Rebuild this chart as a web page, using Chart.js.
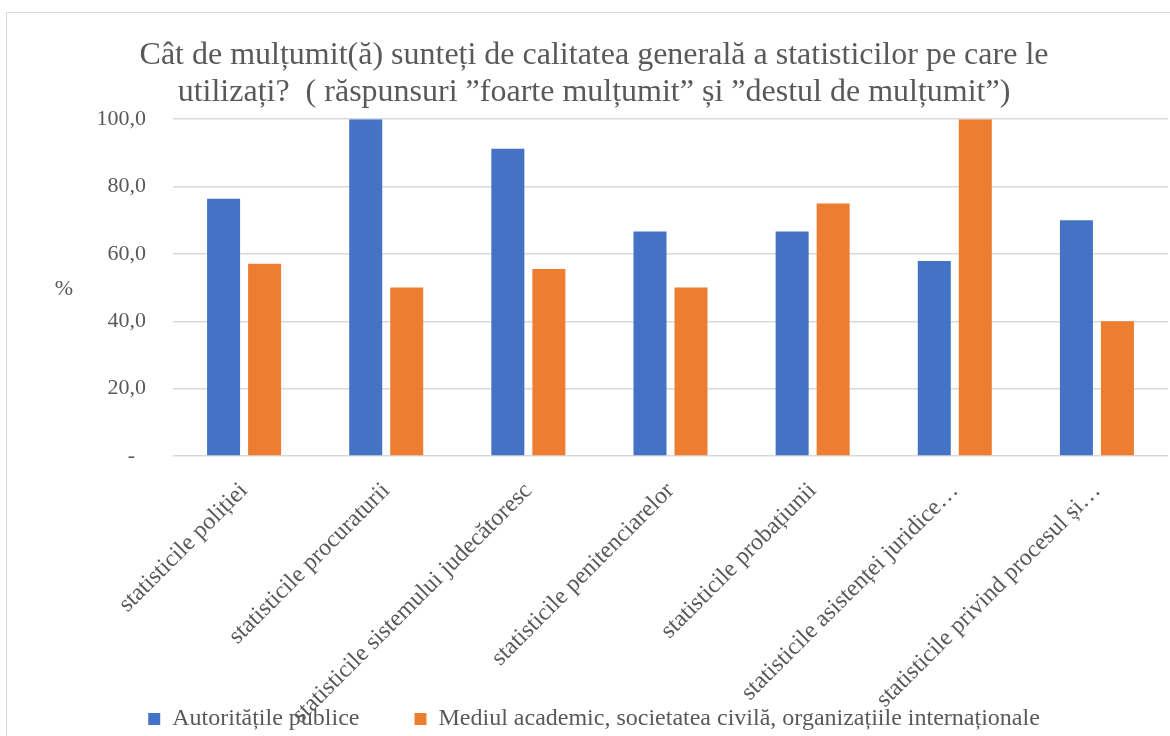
<!DOCTYPE html>
<html>
<head>
<meta charset="utf-8">
<script src="https://cdn.jsdelivr.net/npm/chart.js@4.4.0/dist/chart.umd.min.js"></script>
<style>
  html, body { margin: 0; padding: 0; background: #ffffff; overflow: hidden; width: 1170px; height: 736px; }
  #frame { position: absolute; left: 6px; top: 12px; width: 1200px; height: 800px; border: 1px solid #d9d9d9; box-sizing: border-box; }
  #c { position: absolute; left: 7px; top: 13px; }
</style>
</head>
<body>
<div id="frame"></div>
<canvas id="c" width="1163" height="728" style="width:1163px;height:728px"></canvas>
<script>
const titleLines = [
  "Cât de mulțumit(ă) sunteți de calitatea generală a statisticilor pe care le",
  "utilizați?  ( răspunsuri ”foarte mulțumit” și ”destul de mulțumit”)"
];
const categories = [
  "statisticile poliției",
  "statisticile procuraturii",
  "statisticile sistemului judecătoresc",
  "statisticile penitenciarelor",
  "statisticile probațiunii",
  "statisticile asistenței juridice…",
  "statisticile privind procesul și…"
];
const seriesNames = [
  "Autoritățile publice",
  "Mediul academic, societatea civilă, organizațiile internaționale"
];
const autoritati = [76.4, 100.0, 91.2, 66.7, 66.7, 57.9, 70.0];
const mediul = [57.1, 50.0, 55.5, 50.0, 75.0, 100.0, 40.0];
const yTicks = [0, 20, 40, 60, 80, 100];
const yAxisLabel = "%";

const SERIF = "'Liberation Serif', 'Times New Roman', serif";
const GREY = "#595959";

const percentLabel = {
  id: 'percentLabel',
  afterDraw(chart) {
    const ctx = chart.ctx;
    const a = chart.chartArea;
    ctx.save();
    ctx.font = "22px " + SERIF;
    ctx.fillStyle = GREY;
    ctx.textAlign = 'center';
    ctx.textBaseline = 'middle';
    ctx.fillText(yAxisLabel, 57, (a.top + a.bottom) / 2 + 2);
    ctx.restore();
  }
};

new Chart(document.getElementById('c'), {
  type: 'bar',
  data: {
    labels: categories,
    datasets: [
      { label: seriesNames[0], data: autoritati, backgroundColor: '#4472C4', categoryPercentage: 0.577, barPercentage: 0.805 },
      { label: seriesNames[1], data: mediul, backgroundColor: '#ED7D31', categoryPercentage: 0.577, barPercentage: 0.805 }
    ]
  },
  options: {
    responsive: false,
    animation: false,
    devicePixelRatio: 1,
    layout: { padding: { left: 13, right: 2, top: 0, bottom: 0 } },
    plugins: {
      title: {
        display: true,
        text: titleLines,
        color: GREY,
        font: { family: SERIF, size: 32, weight: 'normal', lineHeight: 1.16 },
        padding: { top: 24, bottom: 8 }
      },
      legend: {
        position: 'bottom',
        labels: {
          color: GREY,
          font: { family: SERIF, size: 24 },
          boxWidth: 12,
          boxHeight: 12,
          padding: 55
        }
      },
      tooltip: { enabled: false }
    },
    scales: {
      x: {
        grid: { display: false },
        border: { display: false },
        ticks: {
          color: GREY,
          font: { family: SERIF, size: 24 },
          maxRotation: 45,
          minRotation: 45,
          autoSkip: false,
          padding: 13
        },
        afterFit(scale) {
          scale.height = 196;
          scale._computeLabelArea = () => undefined;
        }
      },
      y: {
        min: 0,
        max: 100,
        afterBuildTicks(scale) { scale.ticks = yTicks.map(v => ({ value: v })); },
        grid: { color: '#d9d9d9', lineWidth: 1.5, drawTicks: false },
        border: { display: false },
        ticks: {
          color: GREY,
          font: { family: SERIF, size: 22 },
          padding: 27,
          callback: (v) => v === 0 ? '-  ' : v.toFixed(1).replace('.', ',')
        },
        afterFit(scale) { scale.width = 153; }
      }
    }
  },
  plugins: [percentLabel]
});
</script>
</body>
</html>
